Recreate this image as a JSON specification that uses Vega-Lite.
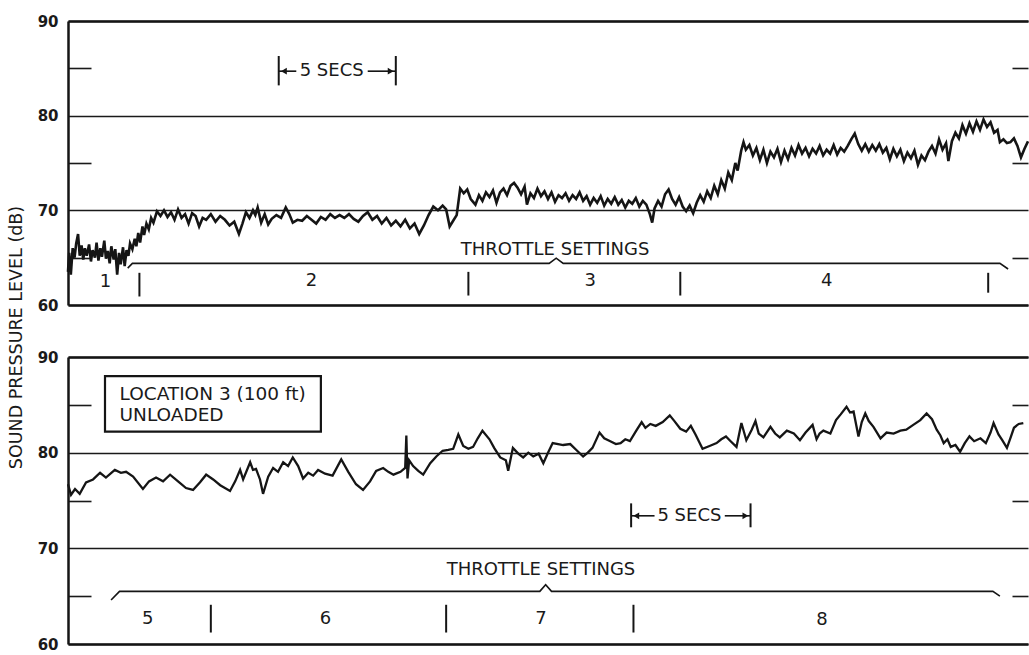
{
  "$schema": "https://vega.github.io/schema/vega-lite/v6.json",
  "background": "white",
  "padding": {"left": 7, "top": 14, "right": 0, "bottom": 4},
  "bounds": "flush",
  "spacing": 52,
  "config": {
    "view": {"stroke": null},
    "font": "DejaVu Sans",
    "axis": {"labelFont": "DejaVu Sans", "titleFont": "DejaVu Sans", "labelColor": "#1a1a1a", "titleColor": "#1a1a1a"}
  },
  "datasets": {
    "topTrace": [
      {"t":0.0,"v":63.5},{"t":0.05,"v":65.5},{"t":0.12,"v":63.2},{"t":0.2,"v":66.0},{"t":0.28,"v":65.0},{"t":0.35,"v":66.5},{"t":0.43,"v":67.5},{"t":0.5,"v":65.2},{"t":0.58,"v":66.3},{"t":0.65,"v":64.8},{"t":0.72,"v":66.0},{"t":0.8,"v":65.2},{"t":0.9,"v":66.4},{"t":0.98,"v":64.6},{"t":1.05,"v":65.8},{"t":1.15,"v":65.0},{"t":1.22,"v":66.6},{"t":1.3,"v":64.7},{"t":1.38,"v":66.0},{"t":1.45,"v":65.1},{"t":1.55,"v":66.8},{"t":1.62,"v":64.9},{"t":1.7,"v":65.7},{"t":1.78,"v":64.4},{"t":1.85,"v":66.2},{"t":1.95,"v":64.8},{"t":2.02,"v":65.9},{"t":2.1,"v":63.2},{"t":2.18,"v":65.5},{"t":2.25,"v":64.3},{"t":2.35,"v":66.1},{"t":2.42,"v":64.1},{"t":2.5,"v":65.8},{"t":2.58,"v":65.2},{"t":2.65,"v":66.5},{"t":2.75,"v":65.9},{"t":2.85,"v":67.0},{"t":2.92,"v":66.2},{"t":3.0,"v":67.6},{"t":3.08,"v":66.6},{"t":3.18,"v":68.3},{"t":3.25,"v":67.4},{"t":3.35,"v":68.6},{"t":3.45,"v":68.0},{"t":3.55,"v":69.2},{"t":3.65,"v":68.7},{"t":3.8,"v":69.9},{"t":3.95,"v":69.4},{"t":4.1,"v":70.0},{"t":4.25,"v":69.3},{"t":4.4,"v":69.8},{"t":4.55,"v":69.0},{"t":4.7,"v":70.1},{"t":4.85,"v":69.2},{"t":5.0,"v":69.6},{"t":5.15,"v":68.6},{"t":5.3,"v":69.7},{"t":5.45,"v":69.4},{"t":5.6,"v":68.3},{"t":5.75,"v":69.2},{"t":5.9,"v":69.0},{"t":6.1,"v":69.6},{"t":6.3,"v":68.8},{"t":6.5,"v":69.4},{"t":6.7,"v":69.0},{"t":6.9,"v":68.4},{"t":7.1,"v":68.8},{"t":7.3,"v":67.5},{"t":7.45,"v":68.6},{"t":7.6,"v":69.8},{"t":7.75,"v":69.2},{"t":7.9,"v":70.0},{"t":8.0,"v":69.5},{"t":8.1,"v":70.3},{"t":8.25,"v":68.7},{"t":8.4,"v":69.6},{"t":8.55,"v":68.5},{"t":8.7,"v":69.1},{"t":8.9,"v":69.5},{"t":9.1,"v":69.2},{"t":9.3,"v":70.3},{"t":9.45,"v":69.6},{"t":9.6,"v":68.7},{"t":9.8,"v":69.0},{"t":10.0,"v":68.9},{"t":10.2,"v":69.4},{"t":10.4,"v":69.0},{"t":10.6,"v":68.6},{"t":10.8,"v":69.3},{"t":11.0,"v":69.0},{"t":11.2,"v":69.6},{"t":11.4,"v":69.2},{"t":11.6,"v":69.5},{"t":11.8,"v":69.2},{"t":12.0,"v":69.6},{"t":12.2,"v":69.1},{"t":12.4,"v":68.8},{"t":12.6,"v":69.4},{"t":12.8,"v":69.8},{"t":13.0,"v":69.0},{"t":13.2,"v":69.4},{"t":13.4,"v":68.6},{"t":13.6,"v":69.2},{"t":13.8,"v":68.4},{"t":14.0,"v":68.9},{"t":14.2,"v":68.3},{"t":14.4,"v":69.0},{"t":14.6,"v":68.1},{"t":14.8,"v":68.6},{"t":15.0,"v":67.5},{"t":15.2,"v":68.4},{"t":15.4,"v":69.5},{"t":15.6,"v":70.4},{"t":15.8,"v":70.0},{"t":16.0,"v":70.5},{"t":16.15,"v":70.1},{"t":16.3,"v":68.3},{"t":16.45,"v":68.9},{"t":16.6,"v":69.5},{"t":16.75,"v":72.3},{"t":16.9,"v":71.8},{"t":17.05,"v":72.2},{"t":17.2,"v":71.2},{"t":17.4,"v":70.6},{"t":17.55,"v":71.6},{"t":17.7,"v":71.0},{"t":17.85,"v":71.9},{"t":18.0,"v":71.4},{"t":18.15,"v":72.1},{"t":18.3,"v":70.8},{"t":18.45,"v":71.9},{"t":18.6,"v":72.3},{"t":18.75,"v":71.6},{"t":18.9,"v":72.6},{"t":19.05,"v":72.9},{"t":19.2,"v":72.4},{"t":19.35,"v":71.7},{"t":19.5,"v":72.5},{"t":19.6,"v":70.6},{"t":19.75,"v":71.8},{"t":19.9,"v":71.3},{"t":20.05,"v":72.3},{"t":20.2,"v":71.5},{"t":20.35,"v":72.0},{"t":20.5,"v":71.2},{"t":20.65,"v":71.9},{"t":20.8,"v":70.9},{"t":20.95,"v":71.6},{"t":21.1,"v":71.3},{"t":21.25,"v":71.8},{"t":21.4,"v":71.0},{"t":21.55,"v":71.6},{"t":21.7,"v":71.2},{"t":21.85,"v":71.9},{"t":22.0,"v":71.0},{"t":22.15,"v":71.5},{"t":22.3,"v":70.6},{"t":22.45,"v":71.3},{"t":22.6,"v":70.8},{"t":22.75,"v":71.5},{"t":22.9,"v":70.5},{"t":23.05,"v":71.2},{"t":23.2,"v":70.7},{"t":23.35,"v":71.4},{"t":23.5,"v":70.6},{"t":23.65,"v":71.1},{"t":23.8,"v":70.3},{"t":23.95,"v":71.0},{"t":24.1,"v":70.7},{"t":24.25,"v":71.3},{"t":24.4,"v":70.4},{"t":24.55,"v":71.0},{"t":24.7,"v":70.6},{"t":24.85,"v":69.6},{"t":24.95,"v":68.7},{"t":25.05,"v":70.2},{"t":25.2,"v":71.0},{"t":25.35,"v":70.4},{"t":25.5,"v":71.7},{"t":25.65,"v":72.2},{"t":25.8,"v":71.2},{"t":25.95,"v":70.6},{"t":26.1,"v":71.4},{"t":26.25,"v":70.4},{"t":26.4,"v":69.9},{"t":26.55,"v":70.5},{"t":26.7,"v":69.7},{"t":26.85,"v":70.8},{"t":27.0,"v":71.6},{"t":27.15,"v":70.9},{"t":27.3,"v":72.0},{"t":27.45,"v":71.3},{"t":27.6,"v":72.6},{"t":27.75,"v":71.7},{"t":27.9,"v":73.2},{"t":28.05,"v":72.3},{"t":28.2,"v":74.0},{"t":28.35,"v":73.2},{"t":28.5,"v":75.0},{"t":28.6,"v":74.2},{"t":28.75,"v":76.3},{"t":28.85,"v":77.2},{"t":28.95,"v":76.4},{"t":29.1,"v":76.9},{"t":29.25,"v":75.8},{"t":29.4,"v":76.6},{"t":29.55,"v":75.3},{"t":29.7,"v":76.4},{"t":29.85,"v":75.0},{"t":30.0,"v":76.2},{"t":30.15,"v":75.6},{"t":30.3,"v":76.5},{"t":30.45,"v":75.1},{"t":30.6,"v":76.3},{"t":30.75,"v":75.4},{"t":30.9,"v":76.6},{"t":31.05,"v":75.8},{"t":31.2,"v":76.9},{"t":31.35,"v":76.0},{"t":31.5,"v":76.6},{"t":31.65,"v":75.7},{"t":31.8,"v":76.5},{"t":31.95,"v":76.0},{"t":32.1,"v":76.8},{"t":32.25,"v":75.8},{"t":32.4,"v":76.4},{"t":32.55,"v":76.0},{"t":32.7,"v":76.9},{"t":32.85,"v":75.9},{"t":33.0,"v":76.6},{"t":33.15,"v":76.2},{"t":33.3,"v":76.8},{"t":33.45,"v":77.5},{"t":33.6,"v":78.1},{"t":33.75,"v":77.0},{"t":33.9,"v":76.3},{"t":34.05,"v":77.0},{"t":34.2,"v":76.2},{"t":34.35,"v":76.9},{"t":34.5,"v":76.3},{"t":34.65,"v":77.0},{"t":34.8,"v":76.1},{"t":34.95,"v":76.6},{"t":35.1,"v":75.4},{"t":35.25,"v":76.5},{"t":35.4,"v":75.7},{"t":35.55,"v":76.4},{"t":35.7,"v":75.2},{"t":35.85,"v":76.1},{"t":36.0,"v":75.5},{"t":36.15,"v":76.3},{"t":36.3,"v":74.8},{"t":36.45,"v":75.8},{"t":36.6,"v":75.3},{"t":36.75,"v":76.2},{"t":36.9,"v":76.8},{"t":37.05,"v":76.0},{"t":37.2,"v":77.5},{"t":37.35,"v":76.4},{"t":37.5,"v":77.1},{"t":37.6,"v":75.2},{"t":37.75,"v":77.3},{"t":37.9,"v":78.2},{"t":38.05,"v":77.6},{"t":38.2,"v":79.0},{"t":38.35,"v":78.1},{"t":38.5,"v":79.2},{"t":38.65,"v":78.3},{"t":38.8,"v":79.4},{"t":38.95,"v":78.5},{"t":39.1,"v":79.6},{"t":39.25,"v":78.8},{"t":39.4,"v":79.3},{"t":39.55,"v":78.2},{"t":39.7,"v":78.5},{"t":39.8,"v":77.2},{"t":39.95,"v":77.5},{"t":40.1,"v":77.1},{"t":40.25,"v":77.2},{"t":40.4,"v":77.6},{"t":40.55,"v":76.8},{"t":40.7,"v":75.6},{"t":40.85,"v":76.5},{"t":41.0,"v":77.3}
    ],
    "botTrace": [
      {"t":0.0,"v":76.7},{"t":0.13,"v":75.6},{"t":0.3,"v":76.2},{"t":0.5,"v":75.7},{"t":0.77,"v":76.9},{"t":1.07,"v":77.2},{"t":1.37,"v":77.9},{"t":1.62,"v":77.4},{"t":2.0,"v":78.2},{"t":2.26,"v":77.9},{"t":2.48,"v":78.0},{"t":2.78,"v":77.5},{"t":3.2,"v":76.2},{"t":3.46,"v":77.0},{"t":3.76,"v":77.4},{"t":4.06,"v":77.0},{"t":4.36,"v":77.7},{"t":4.7,"v":77.0},{"t":5.04,"v":76.3},{"t":5.34,"v":76.1},{"t":5.64,"v":76.9},{"t":5.9,"v":77.7},{"t":6.2,"v":77.2},{"t":6.5,"v":76.6},{"t":6.92,"v":76.0},{"t":7.14,"v":77.0},{"t":7.35,"v":78.2},{"t":7.48,"v":77.2},{"t":7.78,"v":79.0},{"t":7.9,"v":78.2},{"t":8.03,"v":78.3},{"t":8.2,"v":77.2},{"t":8.33,"v":75.7},{"t":8.55,"v":77.5},{"t":8.76,"v":78.4},{"t":8.97,"v":78.0},{"t":9.19,"v":79.0},{"t":9.4,"v":78.6},{"t":9.6,"v":79.5},{"t":9.83,"v":78.6},{"t":10.04,"v":77.3},{"t":10.26,"v":77.9},{"t":10.47,"v":77.6},{"t":10.68,"v":78.2},{"t":10.98,"v":77.8},{"t":11.3,"v":77.6},{"t":11.67,"v":79.3},{"t":11.97,"v":78.0},{"t":12.3,"v":76.7},{"t":12.6,"v":76.1},{"t":12.9,"v":77.0},{"t":13.16,"v":78.1},{"t":13.46,"v":78.4},{"t":13.68,"v":78.0},{"t":13.9,"v":77.7},{"t":14.2,"v":78.0},{"t":14.4,"v":78.4},{"t":14.45,"v":81.8},{"t":14.5,"v":77.3},{"t":14.57,"v":79.2},{"t":14.74,"v":78.6},{"t":14.96,"v":78.1},{"t":15.17,"v":77.7},{"t":15.47,"v":78.9},{"t":15.73,"v":79.6},{"t":16.0,"v":80.2},{"t":16.24,"v":80.3},{"t":16.45,"v":80.4},{"t":16.67,"v":81.9},{"t":16.88,"v":80.7},{"t":17.1,"v":80.4},{"t":17.3,"v":80.6},{"t":17.5,"v":81.5},{"t":17.7,"v":82.3},{"t":18.0,"v":81.4},{"t":18.2,"v":80.5},{"t":18.46,"v":79.5},{"t":18.7,"v":79.2},{"t":18.8,"v":78.1},{"t":19.0,"v":80.5},{"t":19.23,"v":79.9},{"t":19.44,"v":79.5},{"t":19.66,"v":80.0},{"t":19.87,"v":79.6},{"t":20.1,"v":79.9},{"t":20.3,"v":78.9},{"t":20.5,"v":80.0},{"t":20.7,"v":81.0},{"t":21.15,"v":80.8},{"t":21.45,"v":80.9},{"t":21.7,"v":80.3},{"t":22.0,"v":79.6},{"t":22.2,"v":80.0},{"t":22.4,"v":80.5},{"t":22.7,"v":82.1},{"t":22.9,"v":81.5},{"t":23.16,"v":81.2},{"t":23.4,"v":80.9},{"t":23.6,"v":81.0},{"t":23.8,"v":81.4},{"t":24.0,"v":81.2},{"t":24.27,"v":82.3},{"t":24.5,"v":83.2},{"t":24.66,"v":82.6},{"t":24.87,"v":83.0},{"t":25.1,"v":82.8},{"t":25.4,"v":83.2},{"t":25.7,"v":83.9},{"t":25.9,"v":83.3},{"t":26.15,"v":82.5},{"t":26.4,"v":82.2},{"t":26.6,"v":82.8},{"t":26.8,"v":81.9},{"t":27.1,"v":80.4},{"t":27.4,"v":80.7},{"t":27.7,"v":81.0},{"t":27.9,"v":81.4},{"t":28.1,"v":81.7},{"t":28.3,"v":81.2},{"t":28.55,"v":80.6},{"t":28.76,"v":83.1},{"t":28.97,"v":81.3},{"t":29.2,"v":82.4},{"t":29.36,"v":83.3},{"t":29.5,"v":82.0},{"t":29.7,"v":81.6},{"t":30.0,"v":82.7},{"t":30.2,"v":82.0},{"t":30.4,"v":81.6},{"t":30.7,"v":82.3},{"t":31.0,"v":82.0},{"t":31.26,"v":81.3},{"t":31.5,"v":82.1},{"t":31.8,"v":82.9},{"t":31.97,"v":81.4},{"t":32.1,"v":82.0},{"t":32.26,"v":82.3},{"t":32.56,"v":82.0},{"t":32.8,"v":83.4},{"t":33.0,"v":84.0},{"t":33.25,"v":84.8},{"t":33.4,"v":84.2},{"t":33.55,"v":84.3},{"t":33.76,"v":81.7},{"t":33.9,"v":83.2},{"t":34.05,"v":84.1},{"t":34.2,"v":83.3},{"t":34.4,"v":82.7},{"t":34.7,"v":81.5},{"t":34.96,"v":82.1},{"t":35.26,"v":82.0},{"t":35.55,"v":82.3},{"t":35.8,"v":82.4},{"t":36.1,"v":82.9},{"t":36.4,"v":83.4},{"t":36.67,"v":84.1},{"t":36.9,"v":83.5},{"t":37.1,"v":82.4},{"t":37.26,"v":81.8},{"t":37.4,"v":81.0},{"t":37.56,"v":81.4},{"t":37.7,"v":80.6},{"t":37.9,"v":80.8},{"t":38.1,"v":80.1},{"t":38.3,"v":81.0},{"t":38.5,"v":81.7},{"t":38.7,"v":81.2},{"t":38.97,"v":81.5},{"t":39.2,"v":81.0},{"t":39.4,"v":82.1},{"t":39.53,"v":83.1},{"t":39.74,"v":81.9},{"t":39.9,"v":81.3},{"t":40.1,"v":80.5},{"t":40.26,"v":81.6},{"t":40.4,"v":82.6},{"t":40.6,"v":83.0},{"t":40.8,"v":83.1}
    ],
    "topVRules": [
      {"t":3.05,"v":60.9,"v2":63.4},{"t":17.1,"v":61.0,"v2":63.5},{"t":26.15,"v":61.0,"v2":63.5},{"t":39.3,"v":61.3,"v2":63.4},
      {"t":9.0,"v":83.2,"v2":86.3},{"t":14.0,"v":83.2,"v2":86.3}
    ],
    "topBracket": [
      {"t":2.55,"v":63.9},{"t":2.75,"v":64.4},{"t":20.55,"v":64.4},{"t":20.85,"v":64.95},{"t":21.15,"v":64.4},{"t":39.8,"v":64.4},{"t":40.15,"v":63.8}
    ],
    "topText": [
      {"t":20.8,"v":65.85,"label":"THROTTLE SETTINGS"},
      {"t":1.6,"v":62.45,"label":"1"},{"t":10.4,"v":62.5,"label":"2"},{"t":22.3,"v":62.5,"label":"3"},{"t":32.4,"v":62.5,"label":"4"},
      {"t":11.26,"v":84.7,"label":"5 SECS"}
    ],
    "topArrows": [{"t":9.0,"t2":9.75,"v":84.7},{"t":12.8,"t2":14.0,"v":84.7}],
    "topHeads": [{"t":9.22,"v":84.7,"dir":"left"},{"t":13.78,"v":84.7,"dir":"right"}],
    "botVRules": [
      {"t":6.1,"v":61.2,"v2":64.1},{"t":16.15,"v":61.2,"v2":64.1},{"t":24.15,"v":61.2,"v2":64.1},
      {"t":24.05,"v":72.2,"v2":74.7},{"t":29.15,"v":72.2,"v2":74.7}
    ],
    "botBracket": [
      {"t":1.84,"v":64.6},{"t":2.2,"v":65.5},{"t":20.15,"v":65.5},{"t":20.4,"v":66.2},{"t":20.65,"v":65.5},{"t":39.5,"v":65.5},{"t":39.8,"v":65.0}
    ],
    "botText": [
      {"t":20.2,"v":67.7,"label":"THROTTLE SETTINGS"},
      {"t":3.4,"v":62.6,"label":"5"},{"t":11.0,"v":62.6,"label":"6"},{"t":20.2,"v":62.6,"label":"7"},{"t":32.2,"v":62.5,"label":"8"},
      {"t":26.54,"v":73.4,"label":"5 SECS"}
    ],
    "botArrows": [{"t":24.05,"t2":25.05,"v":73.4},{"t":28.05,"t2":29.15,"v":73.4}],
    "botHeads": [{"t":24.27,"v":73.4,"dir":"left"},{"t":28.93,"v":73.4,"dir":"right"}],
    "botBox": [{"t":1.58,"t2":10.8,"v":82.2,"v2":88.0}],
    "botBoxText": [{"t":2.2,"v":86.1,"label":"LOCATION 3 (100 ft)"},{"t":2.2,"v":83.9,"label":"UNLOADED"}]
  },
  "vconcat": [
    {
      "width": 960,
      "height": 284,
      "resolve": {"axis": {"x": "independent", "y": "independent"}},
      "layer": [
        {
          "data": {"name": "topTrace"},
          "mark": {"type": "line", "color": "#151515", "strokeWidth": 2.6, "strokeJoin": "miter"},
          "encoding": {
            "x": {"field": "t", "type": "quantitative", "scale": {"domain": [0, 41], "nice": false, "zero": false},
              "axis": {"orient": "bottom", "labels": false, "ticks": false, "grid": false, "title": null, "domainColor": "#151515", "domainWidth": 2.5}},
            "y": {"field": "v", "type": "quantitative", "scale": {"domain": [60, 90], "nice": false, "zero": false},
              "axis": {"orient": "left", "values": [60, 65, 70, 75, 80, 85, 90],
                "labelExpr": "datum.value % 10 === 0 ? datum.label : ''",
                "labelFontSize": 15, "labelFontWeight": "bold", "labelPadding": 33,
                "ticks": true, "tickSize": -23, "tickWidth": 1.6, "tickColor": "#1a1a1a",
                "tickOpacity": {"condition": {"test": "datum.value % 10 === 0", "value": 0}, "value": 1},
                "grid": true, "gridColor": "#1a1a1a", "gridWidth": 1.3,
                "gridOpacity": {"condition": {"test": "datum.value % 10 === 0", "value": 1}, "value": 0},
                "domainColor": "#151515", "domainWidth": 2.5,
                "title": "SOUND PRESSURE LEVEL (dB)", "titleFontSize": 17.5, "titleFontWeight": "normal", "titlePadding": 12, "titleY": 316}}
          }
        },
        {
          "data": {"name": "topVRules"},
          "mark": {"type": "rule", "color": "#151515", "strokeWidth": 2},
          "encoding": {
            "x": {"field": "t", "type": "quantitative", "axis": null},
            "y": {"field": "v", "type": "quantitative", "axis": null},
            "y2": {"field": "v2"}
          }
        },
        {
          "data": {"name": "topBracket"},
          "mark": {"type": "line", "color": "#151515", "strokeWidth": 1.6},
          "encoding": {
            "x": {"field": "t", "type": "quantitative", "axis": null},
            "y": {"field": "v", "type": "quantitative", "axis": null}
          }
        },
        {
          "data": {"name": "topArrows"},
          "mark": {"type": "rule", "color": "#151515", "strokeWidth": 1.6},
          "encoding": {
            "x": {"field": "t", "type": "quantitative", "axis": null},
            "x2": {"field": "t2"},
            "y": {"field": "v", "type": "quantitative", "axis": null}
          }
        },
        {
          "data": {"name": "topHeads"},
          "mark": {"type": "point", "filled": true, "color": "#151515", "size": 45, "opacity": 1},
          "encoding": {
            "x": {"field": "t", "type": "quantitative", "axis": null},
            "y": {"field": "v", "type": "quantitative", "axis": null},
            "shape": {"field": "dir", "type": "nominal", "scale": {"domain": ["left", "right"], "range": ["triangle-left", "triangle-right"]}, "legend": null}
          }
        },
        {
          "data": {"name": "topText"},
          "mark": {"type": "text", "font": "DejaVu Sans", "fontSize": 18, "color": "#1a1a1a", "align": "center", "baseline": "middle"},
          "encoding": {
            "x": {"field": "t", "type": "quantitative",
              "axis": {"orient": "top", "labels": false, "ticks": false, "grid": false, "title": null, "domainColor": "#151515", "domainWidth": 2.5}},
            "y": {"field": "v", "type": "quantitative",
              "axis": {"orient": "right", "values": [65, 75, 85], "labels": false, "domain": false, "grid": false, "title": null,
                "ticks": true, "tickSize": -16, "tickWidth": 1.6, "tickColor": "#1a1a1a"}},
            "text": {"field": "label"}
          }
        }
      ]
    },
    {
      "width": 960,
      "height": 287,
      "resolve": {"axis": {"x": "independent", "y": "independent"}},
      "layer": [
        {
          "data": {"name": "botTrace"},
          "mark": {"type": "line", "color": "#151515", "strokeWidth": 2.3, "strokeJoin": "miter"},
          "encoding": {
            "x": {"field": "t", "type": "quantitative", "scale": {"domain": [0, 41], "nice": false, "zero": false},
              "axis": {"orient": "bottom", "labels": false, "ticks": false, "grid": false, "title": null, "domainColor": "#151515", "domainWidth": 2.5}},
            "y": {"field": "v", "type": "quantitative", "scale": {"domain": [60, 90], "nice": false, "zero": false},
              "axis": {"orient": "left", "values": [60, 65, 70, 75, 80, 85, 90],
                "labelExpr": "datum.value % 10 === 0 ? datum.label : ''",
                "labelFontSize": 15, "labelFontWeight": "bold", "labelPadding": 33,
                "ticks": true, "tickSize": -23, "tickWidth": 1.6, "tickColor": "#1a1a1a",
                "tickOpacity": {"condition": {"test": "datum.value % 10 === 0", "value": 0}, "value": 1},
                "grid": true, "gridColor": "#1a1a1a", "gridWidth": 1.3,
                "gridOpacity": {"condition": {"test": "datum.value % 10 === 0", "value": 1}, "value": 0},
                "domainColor": "#151515", "domainWidth": 2.5,
                "title": null}}
          }
        },
        {
          "data": {"name": "botBox"},
          "mark": {"type": "rect", "fill": "white", "fillOpacity": 0, "stroke": "#151515", "strokeWidth": 2.2},
          "encoding": {
            "x": {"field": "t", "type": "quantitative", "axis": null},
            "x2": {"field": "t2"},
            "y": {"field": "v", "type": "quantitative", "axis": null},
            "y2": {"field": "v2"}
          }
        },
        {
          "data": {"name": "botBoxText"},
          "mark": {"type": "text", "font": "DejaVu Sans", "fontSize": 18.5, "color": "#1a1a1a", "align": "left", "baseline": "middle"},
          "encoding": {
            "x": {"field": "t", "type": "quantitative", "axis": null},
            "y": {"field": "v", "type": "quantitative", "axis": null},
            "text": {"field": "label"}
          }
        },
        {
          "data": {"name": "botVRules"},
          "mark": {"type": "rule", "color": "#151515", "strokeWidth": 2},
          "encoding": {
            "x": {"field": "t", "type": "quantitative", "axis": null},
            "y": {"field": "v", "type": "quantitative", "axis": null},
            "y2": {"field": "v2"}
          }
        },
        {
          "data": {"name": "botBracket"},
          "mark": {"type": "line", "color": "#151515", "strokeWidth": 1.6},
          "encoding": {
            "x": {"field": "t", "type": "quantitative", "axis": null},
            "y": {"field": "v", "type": "quantitative", "axis": null}
          }
        },
        {
          "data": {"name": "botArrows"},
          "mark": {"type": "rule", "color": "#151515", "strokeWidth": 1.6},
          "encoding": {
            "x": {"field": "t", "type": "quantitative", "axis": null},
            "x2": {"field": "t2"},
            "y": {"field": "v", "type": "quantitative", "axis": null}
          }
        },
        {
          "data": {"name": "botHeads"},
          "mark": {"type": "point", "filled": true, "color": "#151515", "size": 45, "opacity": 1},
          "encoding": {
            "x": {"field": "t", "type": "quantitative", "axis": null},
            "y": {"field": "v", "type": "quantitative", "axis": null},
            "shape": {"field": "dir", "type": "nominal", "scale": {"domain": ["left", "right"], "range": ["triangle-left", "triangle-right"]}, "legend": null}
          }
        },
        {
          "data": {"name": "botText"},
          "mark": {"type": "text", "font": "DejaVu Sans", "fontSize": 18, "color": "#1a1a1a", "align": "center", "baseline": "middle"},
          "encoding": {
            "x": {"field": "t", "type": "quantitative",
              "axis": {"orient": "top", "labels": false, "ticks": false, "grid": false, "title": null, "domainColor": "#151515", "domainWidth": 2.5}},
            "y": {"field": "v", "type": "quantitative",
              "axis": {"orient": "right", "values": [65, 75, 85], "labels": false, "domain": false, "grid": false, "title": null,
                "ticks": true, "tickSize": -16, "tickWidth": 1.6, "tickColor": "#1a1a1a"}},
            "text": {"field": "label"}
          }
        }
      ]
    }
  ]
}
